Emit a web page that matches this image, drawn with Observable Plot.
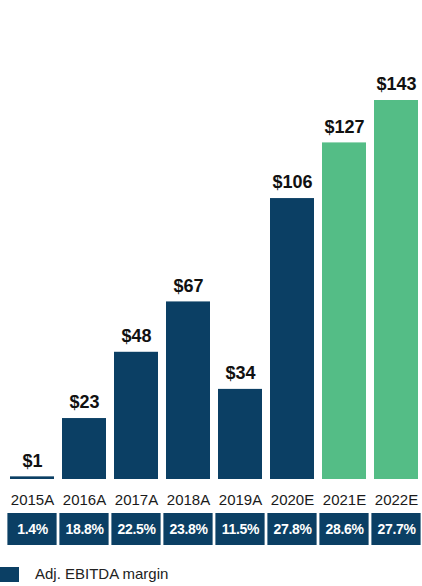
<!DOCTYPE html>
<html>
<head>
<meta charset="utf-8">
<script src="https://cdn.jsdelivr.net/npm/d3@7"></script>
<script src="https://cdn.jsdelivr.net/npm/@observablehq/plot@0.6"></script>
<style>
  html, body { margin: 0; padding: 0; background: #fff; }
  body { width: 422px; height: 586px; overflow: hidden; font-family: "Liberation Sans", Arial, sans-serif; }
  #legend { position: relative; height: 30px; }
  #legend .sw { position: absolute; left: 0; top: 11px; width: 19px; height: 15px; background: #0b3f64; }
  #legend .lb { position: absolute; left: 35px; top: 9px; font-size: 15px; line-height: 18px; color: #222; }
  .pct text { letter-spacing: -0.3px; }
</style>
</head>
<body>
<div id="chart"></div>
<div id="legend"><div class="sw"></div><div class="lb">Adj. EBITDA margin</div></div>
<script>
const years = ["2015A", "2016A", "2017A", "2018A", "2019A", "2020E", "2021E", "2022E"];
const values = [1, 23, 48, 67, 34, 106, 127, 143];
const margins = ["1.4%", "18.8%", "22.5%", "23.8%", "11.5%", "27.8%", "28.6%", "27.7%"];
const kinds = ["A", "A", "A", "A", "A", "A", "E", "E"];

const NAVY = "#0b3f64";
const GREEN = "#54bd86";

const data = years.map((year, i) => ({ year, value: values[i], margin: margins[i], kind: kinds[i] }));

const chart = Plot.plot({
  width: 422,
  height: 556,
  marginTop: 100,
  marginBottom: 77,
  marginLeft: 10,
  marginRight: 4,
  style: { fontFamily: "'Liberation Sans', Arial, sans-serif", background: "#fff", overflow: "visible" },
  x: { type: "band", domain: years, paddingInner: 0.16, paddingOuter: 0, label: null },
  y: { domain: [0, 143], axis: null },
  color: { domain: ["A", "E"], range: [NAVY, GREEN] },
  marks: [
    Plot.barY(data, { x: "year", y: "value", fill: "kind" }),
    Plot.text(data, {
      x: "year", y: "value", text: d => `$${d.value}`, dy: -16,
      fontSize: 18, fontWeight: "bold", fill: "#111"
    }),
    Plot.axisX({ tickSize: 0, tickPadding: 15, fontSize: 15, fill: "#1a1a1a", label: null }),
    Plot.barY(data, {
      x: "year", y1: 0, y2: 0, fill: NAVY,
      insetTop: 34, insetBottom: -66, insetLeft: -2.6, insetRight: -2.6
    }),
    Plot.text(data, {
      x: "year", y: 0, text: "margin", dy: 50, className: "pct",
      fontSize: 14, fontWeight: "bold", fill: "#fff"
    })
  ]
});
document.getElementById("chart").appendChild(chart);
</script>
</body>
</html>
